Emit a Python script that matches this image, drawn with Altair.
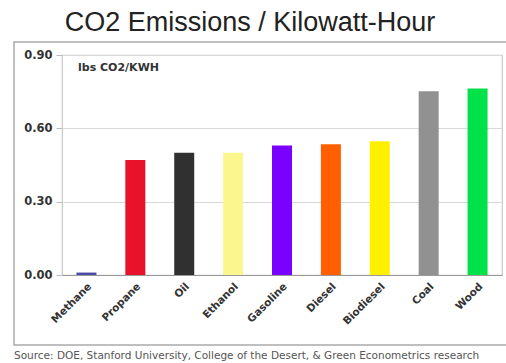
import altair as alt
import pandas as pd

fuels = ["Methane", "Propane", "Oil", "Ethanol", "Gasoline", "Diesel", "Biodiesel", "Coal", "Wood"]
lbs_co2_per_kwh = [0.01, 0.47, 0.50, 0.50, 0.53, 0.535, 0.547, 0.752, 0.763]
bar_colors = ["#4b4ba8", "#e8132b", "#303030", "#fbf78e", "#7a00ff", "#ff5f00", "#fff000", "#919191", "#00e14a"]
y_ticks = [0.0, 0.3, 0.6, 0.9]

df = pd.DataFrame({"fuel": fuels, "value": lbs_co2_per_kwh})

W, H = 440, 220

bars = alt.Chart(df).mark_bar(size=20).encode(
    x=alt.X("fuel:N", sort=fuels, title=None,
            scale=alt.Scale(paddingInner=0.6, paddingOuter=0.3),
            axis=alt.Axis(labelAngle=-45, labelFont="DejaVu Sans", labelFontWeight="bold",
                          labelFontSize=10.5, labelColor="#333333", ticks=False,
                          domainColor="#999999", labelPadding=6)),
    y=alt.Y("value:Q", title=None,
            scale=alt.Scale(domain=[0, 0.9], nice=False),
            axis=alt.Axis(values=y_ticks, format=".2f", labelFont="DejaVu Sans",
                          labelFontWeight="bold", labelFontSize=11.5, labelColor="#333333",
                          gridColor="#d8d8d8", tickColor="#bbbbbb", tickSize=6,
                          domain=False, labelPadding=4)),
    color=alt.Color("fuel:N", scale=alt.Scale(domain=fuels, range=bar_colors), legend=None),
)

unit_label = alt.Chart().mark_text(
    text="lbs CO2/KWH", font="DejaVu Sans", fontWeight="bold", fontSize=11,
    align="left", baseline="middle", color="#333333"
).encode(x=alt.value(16), y=alt.value(13))

source = alt.Chart().mark_text(
    text="Source: DOE, Stanford University, College of the Desert, & Green Econometrics research",
    font="DejaVu Sans", fontSize=10.5, align="left", baseline="middle", color="#555555"
).encode(x=alt.value(-48), y=alt.value(301))

frame = alt.Chart().mark_rect(
    fill=None, stroke="#aaaaaa", strokeWidth=1.5
).encode(x=alt.value(-48), x2=alt.value(460), y=alt.value(-13), y2=alt.value(290))

chart = alt.layer(frame, bars, unit_label, source).properties(
    width=W, height=H,
    title=alt.TitleParams("CO2 Emissions / Kilowatt-Hour", font="Liberation Sans",
                          fontSize=27, fontWeight="normal", color="#222222",
                          anchor="middle", frame="group", dx=-32, offset=4),
    autosize=alt.AutoSizeParams(type="none"),
    padding={"left": 62, "top": 55, "right": 4, "bottom": 88},
    background="white",
).configure_view(stroke="#c8c8c8", strokeWidth=1.2)

chart.save("out.html", embed_options={"renderer": "svg", "actions": False})
